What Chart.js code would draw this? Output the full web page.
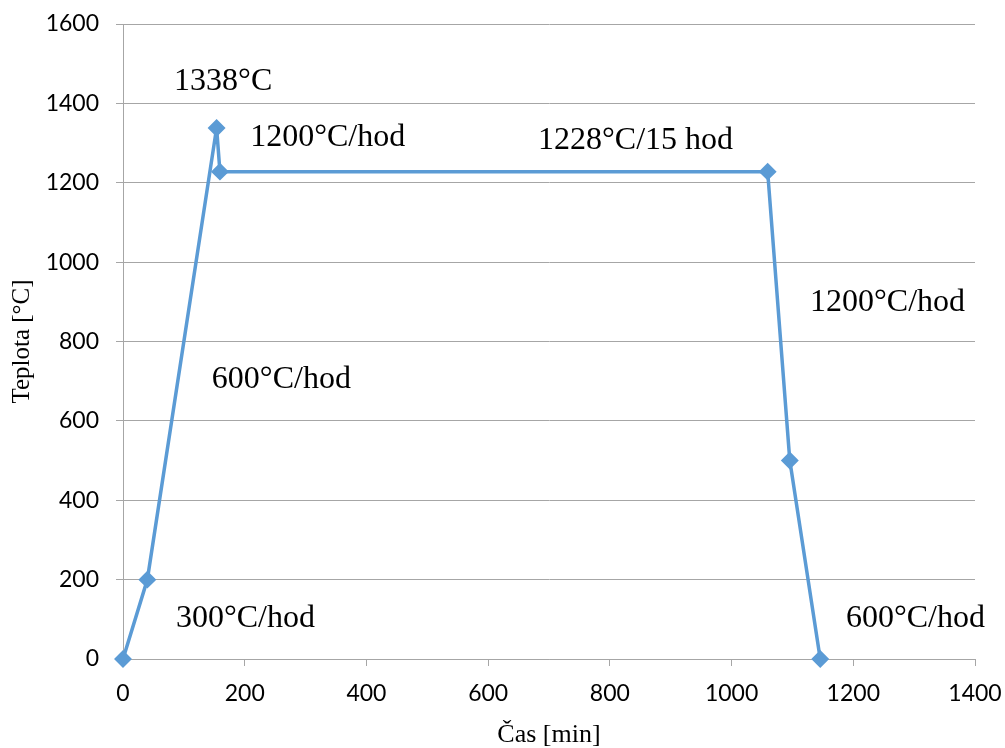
<!DOCTYPE html>
<html>
<head>
<meta charset="utf-8">
<script src="https://cdn.jsdelivr.net/npm/chart.js@4/dist/chart.umd.min.js"></script>
<style>
  html, body { margin: 0; padding: 0; background: #fff; }
  #graf { display: block; }
</style>
</head>
<body>
<canvas id="graf" width="1005" height="748"></canvas>
<script>
// Průběh teploty (čas v minutách, teplota ve °C)
const casMin = [0, 40, 153.8, 159.3, 1059.3, 1095.7, 1145.7];
const teplota = [0, 200, 1338, 1228, 1228, 500, 0];

// Popisky v grafu (souřadnice v jednotkách os)
const popisText = ['1338°C', '1200°C/hod', '1228°C/15 hod', '1200°C/hod', '600°C/hod', '300°C/hod', '600°C/hod'];
const popisX = [84, 209, 682, 1129, 146, 87, 1188];
const popisY = [1456, 1315, 1305, 897, 705, 103, 103];

const modra = '#5B9BD5';
const seda = '#A6A6A6';

// vlastní plugin pro textové popisky
const popiskyPlugin = {
  id: 'popisky',
  afterDatasetsDraw(chart) {
    const { ctx, scales } = chart;
    ctx.save();
    ctx.font = '32px "Liberation Serif", "Times New Roman", serif';
    ctx.fillStyle = '#000';
    ctx.textAlign = 'left';
    ctx.textBaseline = 'middle';
    popisText.forEach((t, i) => {
      ctx.fillText(t, scales.x.getPixelForValue(popisX[i]), scales.y.getPixelForValue(popisY[i]));
    });
    ctx.restore();
  }
};

const pismoOsy = { family: 'Lato, "Open Sans", sans-serif', size: 23 };

const ctx = document.getElementById('graf').getContext('2d');
new Chart(ctx, {
  type: 'scatter',
  data: {
    datasets: [{
      data: casMin.map((x, i) => ({ x: x, y: teplota[i] })),
      showLine: true,
      tension: 0,
      borderColor: modra,
      backgroundColor: modra,
      borderWidth: 3.5,
      borderJoinStyle: 'round',
      pointStyle: 'rectRot',
      pointRadius: 6.5,
      pointHoverRadius: 6.5,
      clip: false
    }]
  },
  options: {
    responsive: false,
    animation: false,
    layout: { padding: { left: 0, top: 24, right: 30, bottom: 0 } },
    plugins: {
      legend: { display: false },
      tooltip: { enabled: false }
    },
    scales: {
      x: {
        type: 'linear',
        min: 0,
        max: 1400,
        afterFit: s => { s.height = 89; s.paddingLeft = 0; s.paddingRight = 0; },
        grid: { drawOnChartArea: false, drawTicks: true, tickLength: 7, color: seda },
        border: { color: seda, width: 1 },
        ticks: {
          stepSize: 200,
          color: '#000',
          padding: 14,
          maxRotation: 0,
          callback: v => String(v),
          font: pismoOsy
        },
        title: {
          display: true,
          text: 'Čas [min]',
          color: '#000',
          padding: { top: 0, bottom: 0 },
          font: { family: '"Liberation Serif", "Times New Roman", serif', size: 26, lineHeight: 1 }
        }
      },
      y: {
        min: 0,
        max: 1600,
        afterFit: s => { s.width = 123; s.paddingTop = 0; s.paddingBottom = 0; },
        grid: { color: seda, tickLength: 7 },
        border: { color: seda, width: 1 },
        ticks: {
          stepSize: 200,
          color: '#000',
          padding: 17,
          callback: v => String(v),
          font: pismoOsy
        },
        title: {
          display: true,
          text: 'Teplota [°C]',
          color: '#000',
          padding: { top: 10, bottom: 0 },
          font: { family: '"Liberation Serif", "Times New Roman", serif', size: 25, lineHeight: 1 }
        }
      }
    }
  },
  plugins: [popiskyPlugin]
});
</script>
</body>
</html>
